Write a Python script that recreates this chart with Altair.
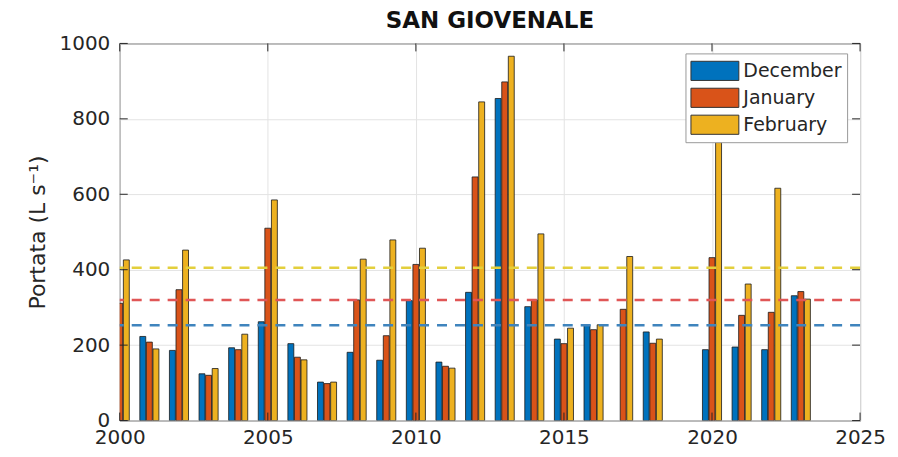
import altair as alt
import pandas as pd

# ---- data ----
years = list(range(2000, 2024))
december = [None, 223, 186, 124, 193, 262, 204, 102, 181, 160, 318, 155, 340, 854, 302, 216, 253, None, 235, None, 188, 195, 188, 331]
january = [311, 208, 347, 120, 188, 510, 168, 98, 320, 225, 414, 144, 646, 898, 320, 204, 241, 295, 205, None, 432, 279, 287, 342]
february = [426, 190, 452, 138, 229, 585, 161, 102, 428, 479, 457, 139, 845, 966, 495, 245, 254, 435, 216, None, 900, 362, 616, 322]
months = ["December", "January", "February"]
mean_values = [253, 320, 405]
x_ticks = [2000, 2005, 2010, 2015, 2020, 2025]
y_ticks = [0, 200, 400, 600, 800, 1000]

rows = []
for series_idx, (name, vals) in enumerate(zip(months, [december, january, february])):
    for yr, v in zip(years, vals):
        if v is not None:
            rows.append({"year": yr, "idx": series_idx, "month": name, "value": v})
df = pd.DataFrame(rows)
means_df = pd.DataFrame({"month": months, "mean": mean_values})
xt_df = pd.DataFrame({"tick": x_ticks})
yt_df = pd.DataFrame({"tick": y_ticks})

W, H = 742, 378
bar_colors = ["#0072BD", "#D95319", "#EDB120"]
line_colors = ["#3f84bd", "#e05656", "#e3cf3c"]
FONT = "DejaVu Sans"
TXT = "#262626"

xscale = alt.Scale(domain=[2000, 2025], nice=False, zero=False)
yscale = alt.Scale(domain=[0, 1000], nice=False)

bars = alt.Chart(df).transform_calculate(
    x0="datum.year + (datum.idx - 1) * 0.222 - 0.1",
    x1="datum.year + (datum.idx - 1) * 0.222 + 0.1",
).mark_bar(clip=True, stroke="#1a1a1a", strokeWidth=0.8, opacity=1).encode(
    x=alt.X("x0:Q", scale=xscale, title=None,
            axis=alt.Axis(values=x_ticks, format="d", labelPadding=7, grid=True,
                          labelFlush=False, labelOverlap=False)),
    x2="x1:Q",
    y=alt.Y("value:Q", scale=yscale, title="Portata (L s⁻¹)",
            axis=alt.Axis(values=y_ticks, format="d", labelPadding=10, grid=True, titlePadding=10,
                          labelFlush=False, labelOverlap=False)),
    y2=alt.datum(0),
    color=alt.Color("month:N", scale=alt.Scale(domain=months, range=bar_colors), title=None,
                    legend=alt.Legend(orient="none", legendX=567, legendY=10,
                                      fillColor="white", strokeColor="#9a9a9a", padding=5,
                                      symbolType="M-1,-0.8H3V0.8H-1Z", symbolSize=576,
                                      symbolStrokeColor="#333333", symbolStrokeWidth=1,
                                      symbolOpacity=1, labelFont=FONT, labelFontSize=19,
                                      labelColor=TXT, labelOffset=28, rowPadding=2)),
)

means = alt.Chart(means_df).mark_rule(strokeDash=[10, 8], strokeWidth=2.5).encode(
    y=alt.Y("mean:Q", scale=yscale),
    color=alt.Color("month:N", scale=alt.Scale(domain=months, range=line_colors), legend=None),
)

tick_style = dict(color=TXT, strokeWidth=1)
bottom_ticks = alt.Chart(xt_df).mark_rule(**tick_style).encode(
    x=alt.X("tick:Q", scale=xscale), y=alt.value(H - 8), y2=alt.value(H))
top_ticks = alt.Chart(xt_df).mark_rule(**tick_style).encode(
    x=alt.X("tick:Q", scale=xscale), y=alt.value(0), y2=alt.value(8))
left_ticks = alt.Chart(yt_df).mark_rule(**tick_style).encode(
    y=alt.Y("tick:Q", scale=yscale), x=alt.value(0), x2=alt.value(8))
right_ticks = alt.Chart(yt_df).mark_rule(**tick_style).encode(
    y=alt.Y("tick:Q", scale=yscale), x=alt.value(W - 8), x2=alt.value(W))

chart = alt.layer(bars, means, bottom_ticks, top_ticks, left_ticks, right_ticks).resolve_scale(
    color="independent"
).properties(
    width=W, height=H,
    title=alt.TitleParams("SAN GIOVENALE", font=FONT, fontSize=23, fontWeight="bold",
                          color="#111111", anchor="middle", offset=0),
    autosize=alt.AutoSizeParams(type="none"),
    padding={"left": 112, "top": 35, "right": 30, "bottom": 30},
).configure_view(
    stroke=TXT, strokeWidth=1
).configure_axis(
    gridColor="#e3e3e3", gridWidth=1, domain=False, ticks=False,
    labelFont=FONT, labelFontSize=20, labelColor=TXT,
    titleFont=FONT, titleFontSize=22, titleFontWeight="normal", titleColor=TXT,
)

chart.save("out.html", embed_options={"renderer": "svg", "actions": False})
